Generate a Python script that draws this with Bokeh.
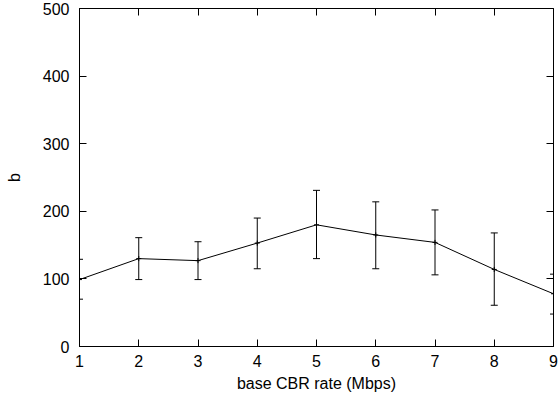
from bokeh.plotting import figure
from bokeh.models import LinearAxis, Whisker, ColumnDataSource, Range1d, FixedTicker, TeeHead
from bokeh.embed import file_html
from bokeh.resources import INLINE

rate = [1, 2, 3, 4, 5, 6, 7, 8, 9]
b_mean = [99, 130, 127, 153, 180, 165, 154, 114, 78]
b_upper = [129, 161, 155, 190, 231, 214, 202, 168, 107]
b_lower = [70, 99, 99, 115, 130, 115, 106, 61, 48]
x_ticks = [1, 2, 3, 4, 5, 6, 7, 8, 9]
y_ticks = [0, 100, 200, 300, 400, 500]

src = ColumnDataSource(dict(x=rate, y=b_mean, up=b_upper, lo=b_lower))

FONT = "Liberation Sans"
p = figure(width=558, height=401, output_backend="svg", toolbar_location=None,
           x_range=Range1d(1, 9), y_range=Range1d(0, 500),
           min_border_left=79, min_border_right=5, min_border_top=8, min_border_bottom=55)
p.background_fill_color = "white"
p.border_fill_color = "white"
p.grid.visible = False
p.outline_line_color = "black"
p.outline_line_width = 1

for ax in [p.xaxis[0], p.yaxis[0]]:
    ax.major_tick_in = 7
    ax.major_tick_out = 0
    ax.minor_tick_in = 0
    ax.minor_tick_out = 0
    ax.axis_line_color = "black"
    ax.major_tick_line_color = "black"
    ax.major_label_text_font = FONT
    ax.major_label_text_font_size = "16px"
    ax.major_label_text_color = "black"
    ax.axis_label_text_font = FONT
    ax.axis_label_text_font_size = "16px"
    ax.axis_label_text_font_style = "normal"
    ax.axis_label_text_color = "black"

p.xaxis[0].ticker = FixedTicker(ticks=x_ticks)
p.yaxis[0].ticker = FixedTicker(ticks=y_ticks)
p.xaxis[0].axis_label = "base CBR rate (Mbps)"
p.yaxis[0].axis_label = "b"
p.xaxis[0].major_label_standoff = 8
p.yaxis[0].major_label_standoff = 10
p.xaxis[0].axis_label_standoff = 5
p.yaxis[0].axis_label_standoff = 17

for loc, tk in [("right", y_ticks), ("above", x_ticks)]:
    a = LinearAxis(ticker=FixedTicker(ticks=tk), major_tick_in=7, major_tick_out=0,
                   minor_tick_in=0, minor_tick_out=0,
                   major_label_overrides={t: "" for t in tk},
                   axis_line_color=None, major_tick_line_color="black",
                   major_label_standoff=0)
    p.add_layout(a, loc)

p.line("x", "y", source=src, line_color="black", line_width=1)
p.scatter("x", "y", source=src, marker="cross", size=5, line_color="black", line_width=1)
w = Whisker(base="x", upper="up", lower="lo", source=src, line_color="black", line_width=1,
            upper_head=TeeHead(size=7, line_color="black", line_width=1),
            lower_head=TeeHead(size=7, line_color="black", line_width=1))
p.add_layout(w)

open("out.html", "w").write(file_html(p, INLINE))
